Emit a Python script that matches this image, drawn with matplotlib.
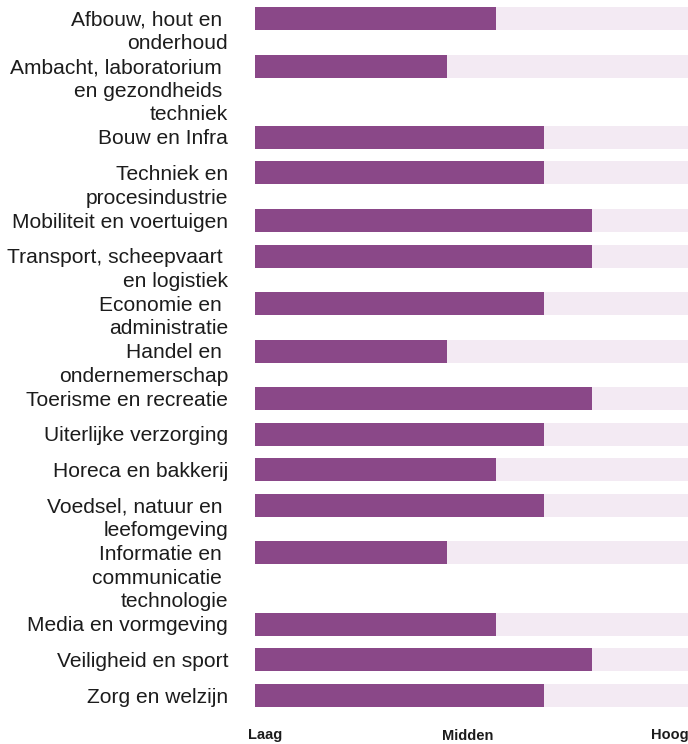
import matplotlib
matplotlib.use("Agg")
import matplotlib.pyplot as plt

categories = [
    "Afbouw, hout en \nonderhoud",
    "Ambacht, laboratorium \nen gezondheids \ntechniek",
    "Bouw en Infra",
    "Techniek en\nprocesindustrie",
    "Mobiliteit en voertuigen",
    "Transport, scheepvaart \nen logistiek",
    "Economie en \nadministratie",
    "Handel en \nondernemerschap",
    "Toerisme en recreatie",
    "Uiterlijke verzorging",
    "Horeca en bakkerij",
    "Voedsel, natuur en \nleefomgeving",
    "Informatie en \ncommunicatie \ntechnologie",
    "Media en vormgeving",
    "Veiligheid en sport",
    "Zorg en welzijn",
]
values = [5, 4, 6, 6, 7, 7, 6, 4, 7, 6, 5, 6, 4, 5, 7, 6]
scale_max = 9
scale_labels = ["Laag", "Midden", "Hoog"]
scale_pos = [0.22, 4.42, 8.62]

BAR = "#8a4888"
BG = "#f3eaf3"
TXT = "#1c1c1c"

W, H = 688, 744
fig = plt.figure(figsize=(W / 100, H / 100), dpi=100)
ax_bottom_px = 716
ax = fig.add_axes([255 / W, (H - ax_bottom_px) / H, 433 / W, ax_bottom_px / H])
ax.set_xlim(0, scale_max)
ax.set_ylim(ax_bottom_px, 0)

# row positions derived from number of label lines
line_px = 23.75
first_center = 18.5
centers = []
pos = 0.0
for lab in categories:
    centers.append(first_center + line_px * pos)
    n = lab.count("\n") + 1
    pos += max(1.5, n)

bar_h = 23
ax.barh(centers, [scale_max] * len(values), height=bar_h, color=BG, zorder=1)
ax.barh(centers, values, height=bar_h, color=BAR, zorder=2)

for c, lab in zip(centers, categories):
    ax.text(-0.56, c - 7.8, lab, ha="right", va="top", fontsize=15.1,
            family="Liberation Sans", color=TXT, linespacing=1.30,
            clip_on=False)

ax.set_xticks(scale_pos)
ax.set_xticklabels(scale_labels, fontsize=10.5, fontweight="bold",
                   family="Liberation Sans", color=TXT)
ax.tick_params(axis="x", length=0, pad=9)
ax.set_yticks([])
for s in ax.spines.values():
    s.set_visible(False)

fig.savefig("out.png", dpi=100)
